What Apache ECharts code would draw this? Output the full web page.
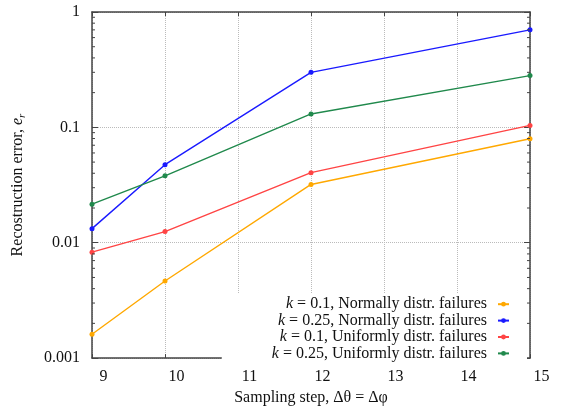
<!DOCTYPE html>
<html>
<head>
<meta charset="utf-8">
<script src="https://cdn.jsdelivr.net/npm/echarts@6/dist/echarts.min.js"></script>
<style>
  html, body { margin: 0; padding: 0; background: #fff; }
  #chart { width: 563px; height: 411px; }
</style>
</head>
<body>
<div id="chart"></div>
<script>
var chart = echarts.init(document.getElementById('chart'));

// sampling steps
var steps = [9, 10, 12, 15];

var seriesNames = [
    'k = 0.1, Normally distr. failures',
    'k = 0.25, Normally distr. failures',
    'k = 0.1, Uniformly distr. failures',
    'k = 0.25, Uniformly distr. failures'
];
var normal01 = [0.00161, 0.00466, 0.032, 0.0796];
var normal025 = [0.01325, 0.0475, 0.30, 0.70];
var uniform01 = [0.00828, 0.0125, 0.0405, 0.104];
var uniform025 = [0.0216, 0.038, 0.1307, 0.281];
var colors = ['#ffa800', '#1a1aff', '#ff4444', '#20894c'];

// minor ticks of the log axis (2..9 in each decade)
var minorTicks = [
    0.002, 0.003, 0.004, 0.005, 0.006, 0.007, 0.008, 0.009,
    0.02, 0.03, 0.04, 0.05, 0.06, 0.07, 0.08, 0.09,
    0.2, 0.3, 0.4, 0.5, 0.6, 0.7, 0.8, 0.9
];

var font = 'Liberation Serif';
var fs = 16;
var borderColor = '#444';

function pairs(values) {
    var res = [];
    for (var i = 0; i < steps.length; i++) {
        res.push([steps[i], values[i]]);
    }
    return res;
}

function lineSeries(name, values, color) {
    return {
        name: name,
        type: 'line',
        data: pairs(values),
        symbol: 'circle',
        symbolSize: 5,
        lineStyle: { color: color, width: 1.4 },
        itemStyle: { color: color },
        z: 3
    };
}

var option = {
    backgroundColor: '#fff',
    animation: false,
    color: colors,
    grid: { left: 91, right: 33, top: 12, bottom: 48 },
    legend: {
        data: seriesNames,
        orient: 'vertical',
        align: 'right',
        right: 36,
        top: 294,
        itemGap: 0,
        itemWidth: 11,
        itemHeight: 6,
        padding: [2, 17, 2, 50],
        backgroundColor: '#fff',
        formatter: function (name) {
            return '{i|k}' + name.substring(1);
        },
        textStyle: {
            fontFamily: font,
            fontSize: fs,
            color: '#111',
            lineHeight: 16.4,
            padding: [0, 6, 0, 0],
            rich: {
                i: { fontFamily: font, fontSize: fs, fontStyle: 'italic', color: '#111' }
            }
        }
    },
    xAxis: [
        {
            type: 'value',
            min: 9,
            max: 15,
            interval: 1,
            name: 'Sampling step, Δθ = Δφ',
            nameLocation: 'middle',
            nameGap: 27,
            nameTextStyle: { fontFamily: font, fontSize: fs, color: '#111' },
            axisLine: { show: true, lineStyle: { color: borderColor, width: 1.5 } },
            axisTick: { show: true, inside: true, length: 4, lineStyle: { color: borderColor } },
            axisLabel: {
                fontFamily: font, fontSize: fs, color: '#111',
                margin: 11,
                padding: [0, 0, 0, 23],
                showMinLabel: true,
                showMaxLabel: true
            },
            splitLine: { show: true, lineStyle: { color: '#bbb', type: 'dotted', width: 1 } }
        },
        {
            type: 'value',
            position: 'top',
            min: 9,
            max: 15,
            interval: 1,
            axisLine: { show: true, lineStyle: { color: borderColor, width: 1.5 } },
            axisTick: { show: true, inside: true, length: 4, lineStyle: { color: borderColor } },
            axisLabel: { show: false },
            splitLine: { show: false }
        }
    ],
    yAxis: [
        {
            type: 'log',
            logBase: 10,
            min: 0.001,
            max: 1,
            name: 'Recostruction error, {i|e}{s|r}',
            nameLocation: 'middle',
            nameGap: 64,
            nameRotate: 90,
            nameTextStyle: {
                fontFamily: font, fontSize: fs, color: '#111', lineHeight: 20,
                rich: {
                    i: { fontFamily: font, fontSize: fs, fontStyle: 'italic', color: '#111', lineHeight: 20 },
                    s: { fontFamily: font, fontSize: 11, fontStyle: 'italic', color: '#111', lineHeight: 11, verticalAlign: 'bottom' }
                }
            },
            axisLine: { show: true, lineStyle: { color: borderColor, width: 1.5 } },
            axisTick: { show: true, inside: true, length: 6, lineStyle: { color: borderColor } },
            axisLabel: {
                fontFamily: font, fontSize: fs, color: '#111',
                margin: 12,
                formatter: function (v) { return String(v); }
            },
            splitLine: { show: true, lineStyle: { color: '#bbb', type: 'dotted', width: 1 } }
        },
        {
            type: 'log',
            logBase: 10,
            min: 0.001,
            max: 1,
            position: 'right',
            axisLine: { show: true, lineStyle: { color: borderColor, width: 1.5 } },
            axisTick: { show: true, inside: true, length: 6, lineStyle: { color: borderColor } },
            axisLabel: { show: false },
            splitLine: { show: false }
        }
    ],
    series: [
        lineSeries(seriesNames[0], normal01, colors[0]),
        lineSeries(seriesNames[1], normal025, colors[1]),
        lineSeries(seriesNames[2], uniform01, colors[2]),
        lineSeries(seriesNames[3], uniform025, colors[3]),
        {
            name: 'minorTicks',
            type: 'custom',
            silent: true,
            z: 10,
            clip: false,
            data: minorTicks.map(function (v) { return [9, v]; }),
            renderItem: function (params, api) {
                var v = api.value(1);
                var l = api.coord([9, v]);
                var r = api.coord([15, v]);
                var style = { stroke: borderColor, lineWidth: 1 };
                return {
                    type: 'group',
                    children: [
                        { type: 'line', shape: { x1: l[0], y1: l[1], x2: l[0] + 3, y2: l[1] }, style: style },
                        { type: 'line', shape: { x1: r[0] - 3, y1: r[1], x2: r[0], y2: r[1] }, style: style }
                    ]
                };
            }
        }
    ]
};

chart.setOption(option);
</script>
</body>
</html>
